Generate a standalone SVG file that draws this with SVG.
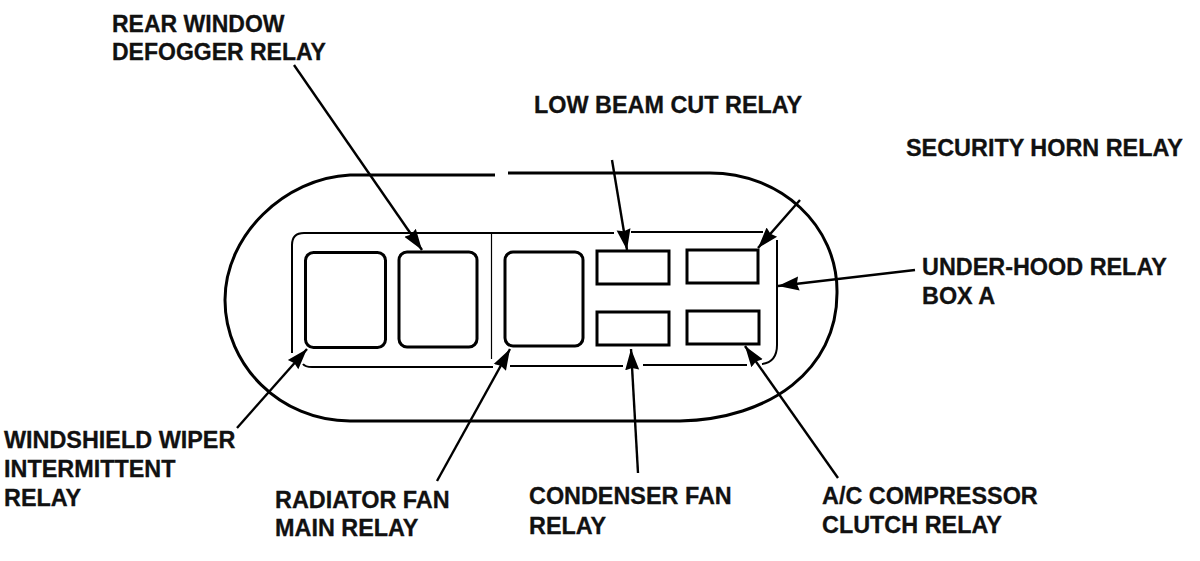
<svg xmlns="http://www.w3.org/2000/svg" width="1200" height="561" viewBox="0 0 1200 561">
<defs>
<marker id="a" markerUnits="userSpaceOnUse" markerWidth="23" markerHeight="18" refX="21" refY="9" orient="auto"><path d="M0 2 L21 9 L0 16 L2 9 Z" fill="#000"/></marker>
</defs>
<style>
text{font-family:"Liberation Sans",Arial,sans-serif;font-weight:700;font-size:23.4px;fill:#111;stroke:#111;stroke-width:.3}
.s{fill:none;stroke:#000;stroke-width:3}
.t{fill:none;stroke:#000;stroke-width:2}
.h{fill:none;stroke:#000;stroke-width:1.2}
.c{fill:none;stroke:#000;stroke-width:2.4;marker-end:url(#a)}
.d{font-size:23px}
</style>
<rect width="1200" height="561" fill="#fff"/>
<g id="box-outer"><path class="s" d="M495 175 H350 C285 178 225 235 225 300 C225 365 280 421 350 421 H680 C770 419 837 370 837 293 C838 225 780 173 710 173 H508"/></g>
<g id="box-inner"><path class="t" d="M292 353 V245 Q292 233 304 233 H614 M631 232 H763 M777 240 V345 Q777 362 762 364 M747 365 H643 M623 366 H510 M493 367 H312 Q305 367 303 364"/><path class="h" d="M491.500 233 V359"/></g>
<g id="relay-wiper"><rect class="s" x="305.500" y="252.500" width="80" height="95" rx="8"/></g>
<g id="relay-defogger"><rect class="s" x="399" y="252" width="78" height="95" rx="8"/></g>
<g id="relay-radiator"><rect class="s" x="505" y="252" width="78" height="94" rx="8"/></g>
<g id="relay-lowbeam"><rect class="s" x="597" y="251" width="72" height="33"/></g>
<g id="relay-horn"><rect class="s" x="687" y="250" width="71" height="33"/></g>
<g id="relay-condenser"><rect class="s" x="597" y="312" width="72" height="33"/></g>
<g id="relay-ac"><rect class="s" x="687" y="311" width="72" height="33"/></g>
<g id="connectors">
<path class="c" d="M294 65 L422 250"/>
<path class="c" d="M612 160 L627 250"/>
<path class="c" d="M800 200 L758 248"/>
<path class="c" d="M915 270 L778 286"/>
<path class="c" d="M237 428 L307 349"/>
<path class="c" d="M437 481 L510 349"/>
<path class="c" d="M638 473 L631 349"/>
<path class="c" d="M838 478 L745 346"/>
</g>
<g id="labels">
<text class="d" x="112" y="32">REAR WINDOW</text><text class="d" x="112" y="60">DEFOGGER RELAY</text>
<text x="534" y="113">LOW BEAM CUT RELAY</text>
<text x="906" y="156">SECURITY HORN RELAY</text>
<text x="922" y="275">UNDER-HOOD RELAY</text><text x="922" y="304">BOX A</text>
<text x="4" y="448">WINDSHIELD WIPER</text><text x="4" y="477">INTERMITTENT</text><text x="4" y="506">RELAY</text>
<text x="275" y="508">RADIATOR FAN</text><text x="275" y="536">MAIN RELAY</text>
<text x="529" y="504">CONDENSER FAN</text><text x="529" y="534">RELAY</text>
<text x="822" y="504">A/C COMPRESSOR</text><text x="822" y="533">CLUTCH RELAY</text>
</g>
</svg>
